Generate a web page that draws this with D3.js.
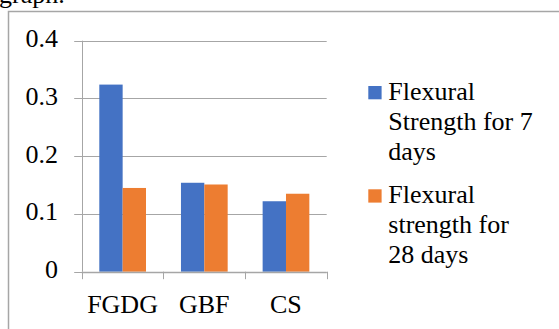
<!DOCTYPE html>
<html>
<head>
<meta charset="utf-8">
<script src="https://cdn.jsdelivr.net/npm/d3@7"></script>
<style>
  html, body { margin: 0; padding: 0; background: #fff; }
  svg { display: block; }
  svg text, svg tspan { font-family: "Liberation Serif", "Times New Roman", serif; }
</style>
</head>
<body>
<svg id="chart" width="559" height="329"></svg>
<script>
const categories = ["FGDG", "GBF", "CS"];
const seriesNames = ["Flexural Strength for 7 days", "Flexural strength for 28 days"];
const strength7 = [0.324, 0.154, 0.122];
const strength28 = [0.145, 0.151, 0.135];
const yTicks = [0, 0.1, 0.2, 0.3, 0.4];
const yTickLabels = ["0", "0.1", "0.2", "0.3", "0.4"];
const legendLines = [["Flexural", "Strength for 7", "days"], ["Flexural", "strength for", "28 days"]];
const colors = ["#4472C4", "#ED7D31"];

(function () {
const svg = d3.select("#chart");
const gridColor = "#A6A6A6";

// clipped caption text above the frame
svg.append("text").attr("x", -1).attr("y", 3)
  .attr("font-size", 26).attr("fill", "#000")
  .text("graph.");

// outer frame
svg.append("rect").attr("x", 8.5).attr("y", 11.5).attr("width", 600).attr("height", 400)
  .attr("fill", "none").attr("stroke", gridColor).attr("stroke-width", 1.5);

const pLeft = 81.7, pRight = 326.7, pTop = 40.7, pBottom = 271.7;
const y = d3.scaleLinear().domain([0, 0.4]).range([pBottom, pTop]);
const x0 = d3.scaleBand().domain(categories).range([pLeft, pRight]).padding(0);
const x1 = d3.scaleBand().domain(seriesNames).range([17.6, 64.3]).padding(0);

// gridlines
svg.append("g").selectAll("line").data(yTicks).join("line")
  .attr("x1", pLeft - 7.5).attr("x2", pRight)
  .attr("y1", d => Math.round(y(d)) + 0.5).attr("y2", d => Math.round(y(d)) + 0.5)
  .attr("stroke", gridColor).attr("stroke-width", 1);

// y tick labels
svg.append("g").selectAll("text").data(yTicks).join("text")
  .attr("x", 58).attr("y", d => y(d) + 6.5)
  .attr("text-anchor", "end")
  .attr("font-size", 26).attr("fill", "#000")
  .text((d, i) => yTickLabels[i]);

// bars
const data = categories.map((c, i) => ({ cat: c, values: [strength7[i], strength28[i]] }));
const groups = svg.append("g").selectAll("g").data(data).join("g")
  .attr("transform", d => `translate(${x0(d.cat)},0)`);
groups.selectAll("rect").data(d => d.values.map((v, j) => ({ v, s: seriesNames[j], j })))
  .join("rect")
  .attr("x", d => x1(d.s)).attr("width", x1.bandwidth())
  .attr("y", d => y(d.v)).attr("height", d => pBottom - y(d.v))
  .attr("fill", d => colors[d.j]);

// y axis line
svg.append("line").attr("x1", Math.round(pLeft) + 0.5).attr("x2", Math.round(pLeft) + 0.5)
  .attr("y1", pTop).attr("y2", pBottom)
  .attr("stroke", gridColor).attr("stroke-width", 1);

// x axis line
svg.append("line").attr("x1", pLeft).attr("x2", pRight)
  .attr("y1", Math.round(pBottom) + 0.5).attr("y2", Math.round(pBottom) + 0.5)
  .attr("stroke", gridColor).attr("stroke-width", 1.5);

// x category boundary ticks
const bounds = categories.map(c => x0(c)).concat([x0(categories[categories.length - 1]) + x0.bandwidth()]);
svg.append("g").selectAll("line").data(bounds).join("line")
  .attr("x1", d => Math.round(d) + 0.5).attr("x2", d => Math.round(d) + 0.5)
  .attr("y1", pBottom).attr("y2", pBottom + 7.5)
  .attr("stroke", gridColor).attr("stroke-width", 1);

// x labels
svg.append("g").selectAll("text").data(categories).join("text")
  .attr("x", d => x0(d) + x0.bandwidth() / 2).attr("y", 312.5)
  .attr("text-anchor", "middle")
  .attr("font-size", 26).attr("fill", "#000")
  .text(d => d);

// legend
const legendTop = [86, 189.3];
const legend = svg.append("g").selectAll("g").data(seriesNames).join("g");
legend.append("rect")
  .attr("x", 368.3).attr("y", (d, i) => legendTop[i])
  .attr("width", 13.3).attr("height", 13.3)
  .attr("fill", (d, i) => colors[i]);
legend.each(function (d, i) {
  const t = d3.select(this).append("text")
    .attr("font-size", 26).attr("fill", "#000");
  legendLines[i].forEach((line, k) => {
    t.append("tspan").attr("x", 388.3).attr("y", legendTop[i] + 13.5 + k * 30).text(line);
  });
});
})();
</script>
</body>
</html>
